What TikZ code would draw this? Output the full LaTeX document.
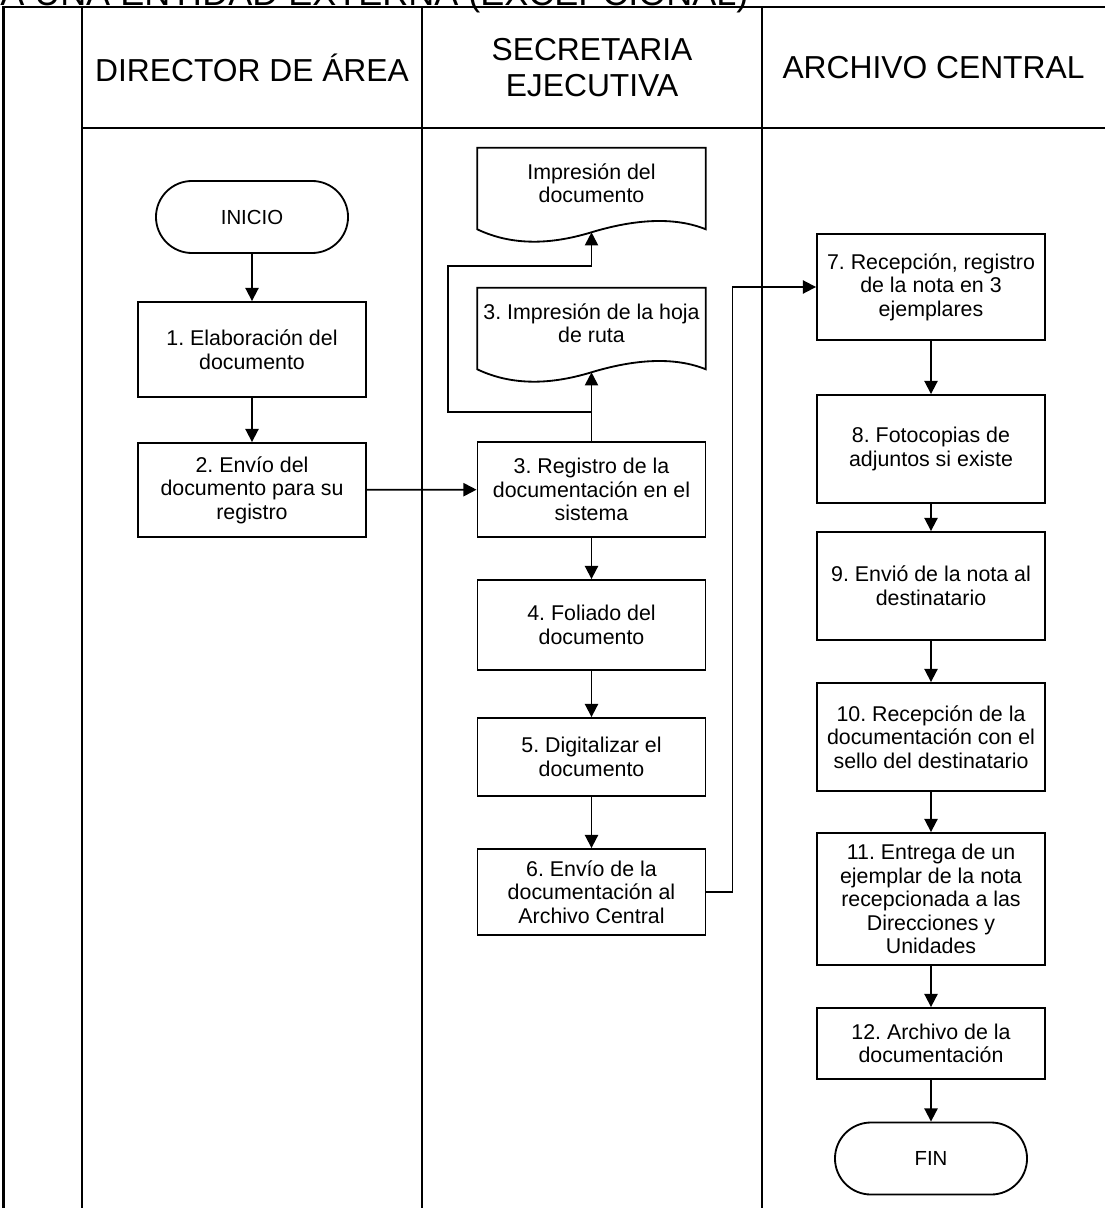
\documentclass[tikz,border=0pt]{standalone}
\usepackage{fontspec}
\setmainfont{Liberation Sans}
\frenchspacing
\usetikzlibrary{arrows.meta, calc}

\tikzset{
    paso/.style={draw, line width=1.3pt, rectangle, minimum width=5.7cm, align=center, inner sep=2pt, font=\fontsize{15.2}{16.8}\selectfont},
    terminal/.style={draw, line width=1.3pt, rectangle, rounded corners=0.9cm, minimum width=4.8cm, minimum height=1.8cm, font=\fontsize{14.5}{16}\selectfont},
    documento/.style={rectangle, minimum width=5.7cm, minimum height=2.1cm, inner sep=0pt, text depth=10pt, align=center, font=\fontsize{15.2}{16.8}\selectfont},
    flecha/.style={line width=1.3pt, -{Triangle[length=0.33cm, width=0.33cm]}},
    carril/.style={line width=1.5pt},
    cabecera/.style={align=center, font=\fontsize{22.6}{26}\selectfont}
}

\begin{document}
\begin{tikzpicture}[x=0.025cm, y=-0.025cm]
    \useasboundingbox (0,0) rectangle (1105,1208);
    \clip (0,0) rectangle (1105,1208);
    % titulo y carriles
    \node[anchor=base west, inner sep=0pt, font=\fontsize{25.6}{28}\selectfont] (titulo) at (0,5.5) {A UNA ENTIDAD EXTERNA (EXCEPCIONAL)};
    \draw[line width=2pt] (3.5,1208) -- (3.5,7) -- (1105,7);
    \foreach \xc in {82,422,762}
        \draw[carril] (\xc,7) -- (\xc,1208);
    \draw[carril] (82,128) -- (1105,128);
    \node[cabecera] (hdir) at (252,67.5) {DIRECTOR DE ÁREA};
    \node[cabecera] (hsec) at (592,67.5) {SECRETARIA\\EJECUTIVA};
    \node[cabecera] (harc) at (933.5,67.5) {ARCHIVO CENTRAL};

    % director de area
    \node[terminal] (inicio) at (252,217) {INICIO};
    \node[paso, minimum height=2.375cm] (p1) at (252,349.5) {1. Elaboración del\\documento};
    \node[paso, minimum height=2.35cm] (p2) at (252,490) {2. Envío del\\documento para su\\registro};

    % secretaria ejecutiva
    \node[documento] (d1) at (591.5,190) {Impresión del\\documento};
    \node[documento] (d2) at (591.5,330) {3. Impresión de la hoja\\de ruta};
    \foreach \d in {d1,d2}
        \draw[line width=1.3pt] (\d.north west) -- (\d.north east) -- ($(\d.south east)+(0,-3)$)
            .. controls +(-37,-15) and +(33,-10) .. (\d.south)
            .. controls +(-33,10) and +(40,19) .. ($(\d.south west)+(0,-3)$) -- cycle;
    \node[paso, minimum height=2.375cm] (p3) at (591.5,489.5) {3. Registro de la\\documentación en el\\sistema};
    \node[paso, minimum height=2.25cm] (p4) at (591.5,625) {4. Foliado del\\documento};
    \node[paso, minimum height=1.95cm] (p5) at (591.5,757) {5. Digitalizar el\\documento};
    \node[paso, minimum height=2.15cm] (p6) at (591.5,892) {6. Envío de la\\documentación al\\Archivo Central};
    \coordinate (retorno) at (448,266);

    % archivo central
    \node[paso, minimum height=2.65cm] (p7) at (931,287) {7. Recepción, registro\\de la nota en 3\\ejemplares};
    \node[paso, minimum height=2.7cm] (p8) at (931,449) {8. Fotocopias de\\adjuntos si existe};
    \node[paso, minimum height=2.7cm] (p9) at (931,586) {9. Envió de la nota al\\destinatario};
    \node[paso, minimum height=2.7cm] (p10) at (931,737) {10. Recepción de la\\documentación con el\\sello del destinatario};
    \node[paso, minimum height=3.3cm] (p11) at (931,899) {11. Entrega de un\\ejemplar de la nota\\recepcionada a las\\Direcciones y\\Unidades};
    \node[paso, minimum height=1.775cm] (p12) at (931,1043.5) {12. Archivo de la\\documentación};
    \node[terminal] (fin) at (931,1158.5) {FIN};

    % conectores
    \draw[flecha] (inicio) -- (p1);
    \draw[flecha] (p1) -- (p2);
    \draw[flecha] (p2) -- (p3);
    \draw[flecha] (p3.north) -- (d2.south);
    \draw[flecha] ($(p3.north)!0.42!(d2.south)$) -| (retorno) -| (d1.south);
    \draw[flecha] (p3) -- (p4);
    \draw[flecha] (p4) -- (p5);
    \draw[flecha] (p5) -- (p6);
    \draw[flecha] (p6.east) -- ++(26,0) |- (p7.west);
    \draw[flecha] (p7) -- (p8);
    \draw[flecha] (p8) -- (p9);
    \draw[flecha] (p9) -- (p10);
    \draw[flecha] (p10) -- (p11);
    \draw[flecha] (p11) -- (p12);
    \draw[flecha] (p12) -- (fin);
\end{tikzpicture}
\end{document}
